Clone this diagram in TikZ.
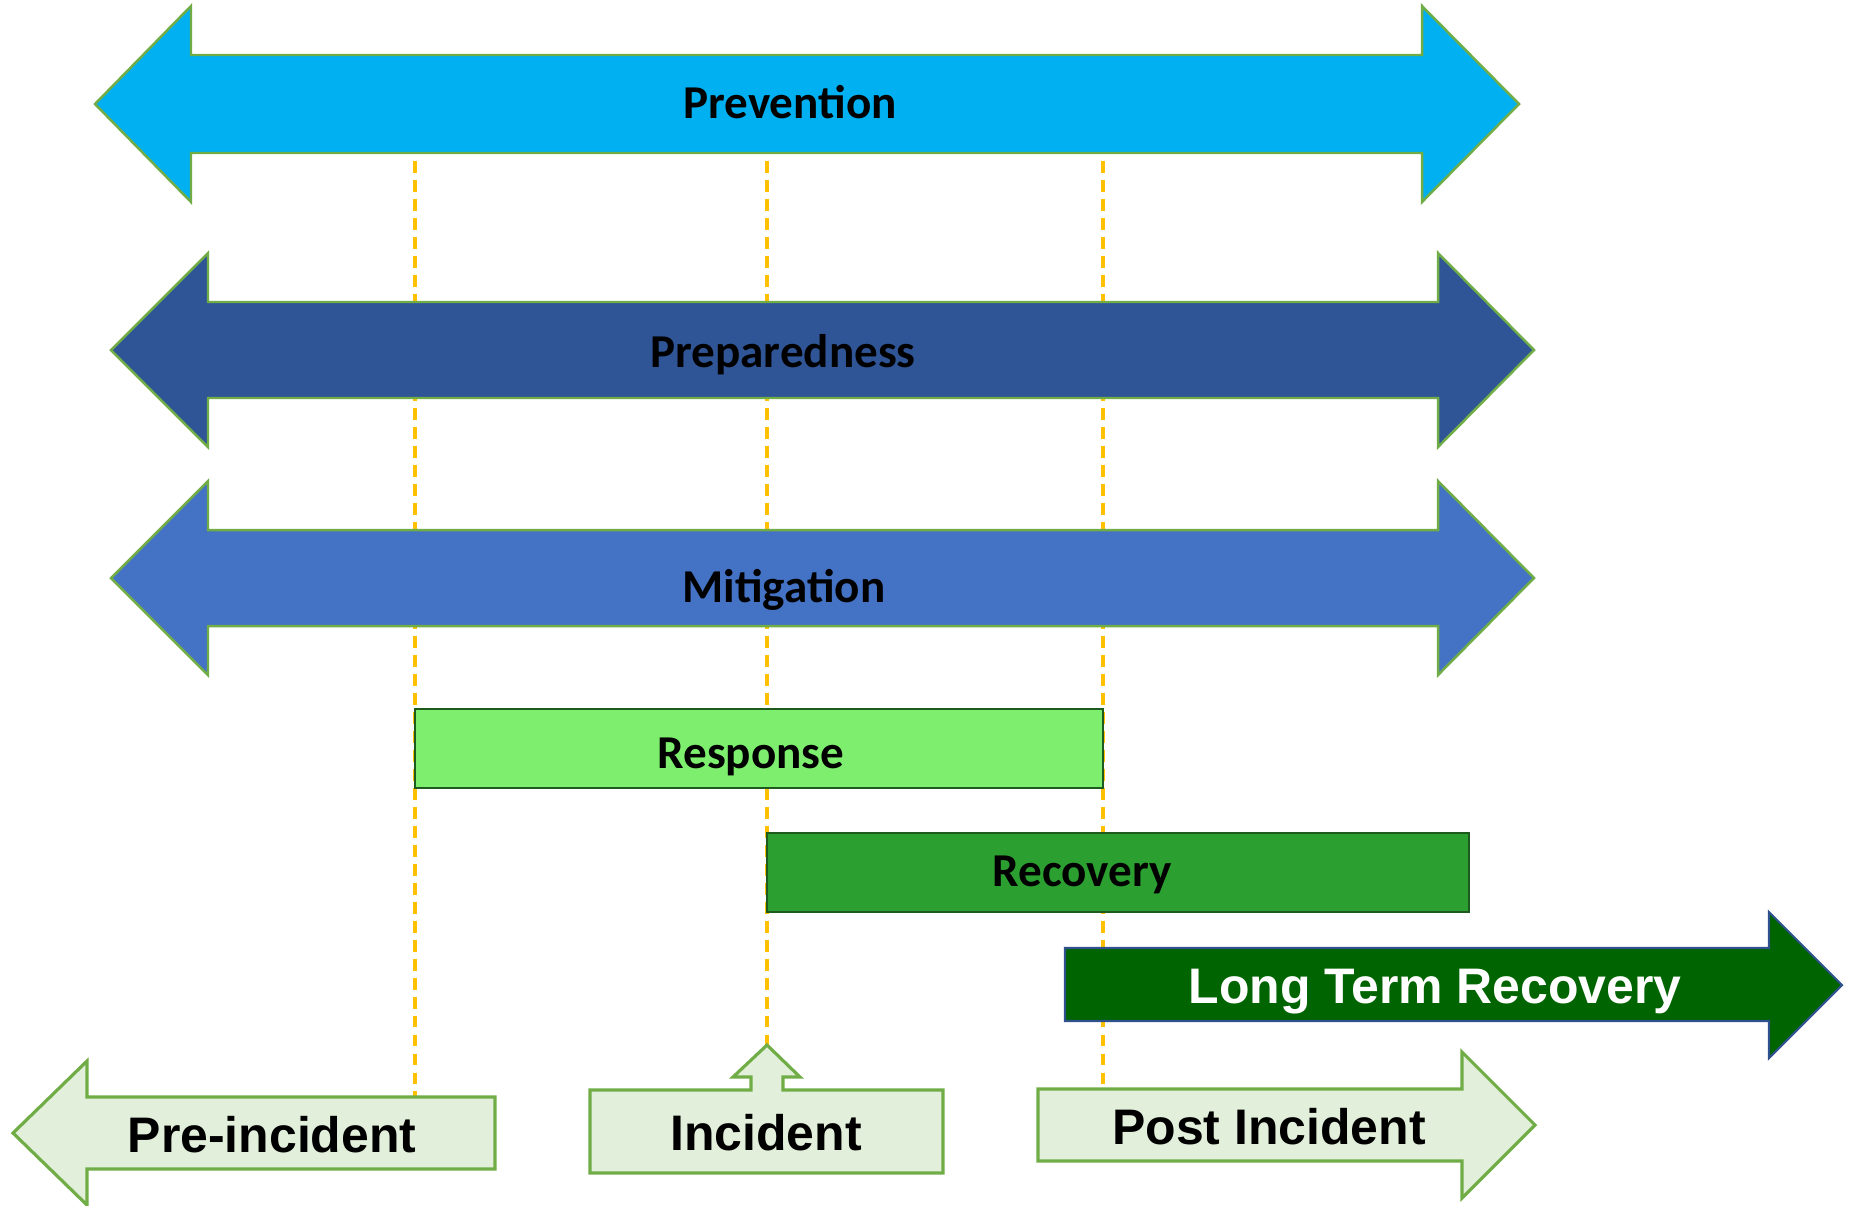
\documentclass[tikz,border=0pt]{standalone}
\usepackage{fontspec}
\setmainfont{Carlito}
\newfontfamily\arialfont{Liberation Sans}
\usepackage{tikz}
\usetikzlibrary{shapes, arrows.meta, positioning}
\definecolor{prevblue}{HTML}{00B0F0}
\definecolor{prepblue}{HTML}{2F5597}
\definecolor{mitiblue}{HTML}{4472C4}
\definecolor{edgegreen}{HTML}{70AD47}
\definecolor{respgreen}{HTML}{7DEE6D}
\definecolor{recgreen}{HTML}{2C9F31}
\definecolor{boxedge}{HTML}{1E5A1E}
\definecolor{ltrgreen}{HTML}{006400}
\definecolor{ltredge}{HTML}{2F528F}
\definecolor{palegreen}{HTML}{E2EFDA}
\definecolor{dashgold}{HTML}{FFC000}

\begin{document}
\begin{tikzpicture}[x=0.01cm, y=-0.01cm,
	bigarrow/.style={draw=edgegreen, line width=0.7pt},
	phasebox/.style={draw=boxedge, line width=0.7pt},
	period/.style={draw=edgegreen, line width=0.9pt, fill=palegreen},
	timeline/.style={dashgold, line width=1pt, dash pattern=on 3.4pt off 2pt},
	calname/.style={font=\fontsize{13.4pt}{16pt}\selectfont\bfseries, text height=0.64em, text depth=0pt, inner sep=0pt},
	periodname/.style={font=\arialfont\fontsize{14.2pt}{17pt}\selectfont\bfseries, text height=0.72em, text depth=0pt, inner sep=0pt}]
	\useasboundingbox (0,0) rectangle (1852,1205);
	
	% 时间分界虚线
	\coordinate (t1) at (415,104);
	\coordinate (t1 end) at (415,1097);
	\coordinate (t2) at (767,104);
	\coordinate (t2 end) at (767,1045);
	\coordinate (t3) at (1103,104);
	\coordinate (t3 end) at (1103,1089);
	\draw[timeline] (t1) -- (t1 end);
	\draw[timeline] (t2) -- (t2 end);
	\draw[timeline] (t3) -- (t3 end);
	
	% 三条双向箭头
	\draw[bigarrow, fill=prevblue] (95,104) -- (191,6) -- (191,55) -- (1422,55) -- (1422,6) -- (1519,104)
	-- (1422,202) -- (1422,153) -- (191,153) -- (191,202) -- cycle;
	\node[calname] (prevention) at (790,107) {Prevention};
	
	\draw[bigarrow, fill=prepblue] (111,350) -- (208,253) -- (208,302) -- (1438,302) -- (1438,253) -- (1534,350)
	-- (1438,447) -- (1438,398) -- (208,398) -- (208,447) -- cycle;
	\node[calname] (preparedness) at (783,356) {Preparedness};
	
	\draw[bigarrow, fill=mitiblue] (111,578) -- (208,481) -- (208,530) -- (1438,530) -- (1438,481) -- (1534,578)
	-- (1438,675) -- (1438,626) -- (208,626) -- (208,675) -- cycle;
	\node[calname] (mitigation) at (784,591) {Mitigation};
	
	% 响应与恢复
	\draw[phasebox, fill=respgreen] (415,709) rectangle (1103,788);
	\node[calname] (response) at (751,757) {Response};
	
	\draw[phasebox, fill=recgreen] (767,833) rectangle (1469,912);
	\node[calname] (recovery) at (1082,875) {Recovery};
	
	% 长期恢复
	\draw[draw=ltredge, line width=0.6pt, fill=ltrgreen] (1065,948) -- (1769,948) -- (1769,912) -- (1842,985)
	-- (1769,1058) -- (1769,1021) -- (1065,1021) -- cycle;
	\node[periodname, text=white] (long term) at (1435,991) {Long Term Recovery};
	
	% 底部三个阶段
	\draw[period] (13,1133) -- (87,1061) -- (87,1097) -- (495,1097) -- (495,1169) -- (87,1169) -- (87,1205) -- cycle;
	\node[periodname] (pre incident) at (272,1140) {Pre-incident};
	
	\draw[period] (590,1090) -- (751,1090) -- (751,1077) -- (733,1077) -- (767,1045) -- (800,1077) -- (783,1077)
	-- (783,1090) -- (943,1090) -- (943,1173) -- (590,1173) -- cycle;
	\node[periodname] (incident) at (766,1138) {Incident};
	
	\draw[period] (1038,1089) -- (1462,1089) -- (1462,1052) -- (1535,1125) -- (1462,1198) -- (1462,1161)
	-- (1038,1161) -- cycle;
	\node[periodname] (post incident) at (1269,1132) {Post Incident};
\end{tikzpicture}
\end{document}
